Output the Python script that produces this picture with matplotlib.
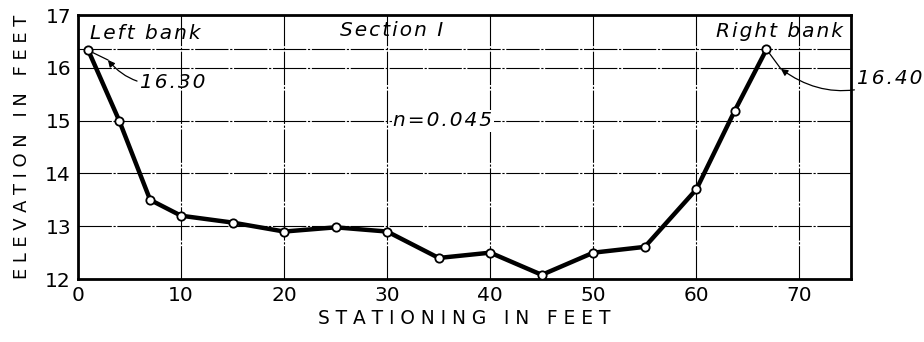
import matplotlib
matplotlib.use("Agg")
import matplotlib.pyplot as plt

stations = [1, 4, 7, 10, 15, 20, 25, 30, 35, 40, 45, 50, 55, 60, 63.7, 66.8]
elevations = [16.33, 15.0, 13.5, 13.2, 13.07, 12.9, 12.98, 12.9, 12.4, 12.5, 12.08, 12.5, 12.61, 13.7, 15.18, 16.35]
xticks = [0, 10, 20, 30, 40, 50, 60, 70]
yticks = [12, 13, 14, 15, 16, 17]
water_surface = 16.35

HS = "\u200a"
def spaced(s):
    return HS.join(s)

fig = plt.figure(figsize=(9.24, 3.42), dpi=100)
ax = fig.add_axes([0.0844, 0.184, 0.8366, 0.772])
ax.set_xlim(0, 75)
ax.set_ylim(12, 17)
ax.set_xticks(xticks)
ax.set_yticks(yticks)
ax.tick_params(length=0, labelsize=14.5, pad=5)
for s in ax.spines.values():
    s.set_linewidth(2)
    s.set_color("black")

gls = (0, (30, 1.5, 2, 1.5))
ax.grid(True, color="black", linewidth=0.8, linestyle=gls)
ax.axhline(water_surface, color="black", linewidth=0.8, linestyle=gls)

ax.plot(stations, elevations, color="black", linewidth=3.2, marker="o",
        markersize=6, markerfacecolor="white", markeredgecolor="black",
        markeredgewidth=1.3, zorder=5)

it = dict(style="italic", fontsize=14.5, color="black")
ax.text(1.2, 16.66, spaced("Left bank"), ha="left", va="center", **it)
ax.text(30.4, 16.7, spaced("Section I"), ha="center", va="center", **it)
ax.text(74.2, 16.68, spaced("Right bank"), ha="right", va="center", **it)
ax.text(30.6, 15.0, spaced("n=0.045"), ha="left", va="center", zorder=6,
        bbox=dict(facecolor="white", edgecolor="none", pad=1), **it)

# left annotation
ax.plot([stations[0], 2.9], [elevations[0], 16.15], color="black", linewidth=0.9)
ax.annotate(spaced("16.30"), xy=(2.9, 16.15), xytext=(6.0, 15.72), ha="left", va="center",
            arrowprops=dict(arrowstyle="-|>", color="black", lw=0.9,
                            connectionstyle="arc3,rad=-0.3", shrinkA=0, shrinkB=0,
                            mutation_scale=10), **it)
# right annotation
ax.plot([stations[-1], 68.2], [elevations[-1], 15.98], color="black", linewidth=0.9)
ax.annotate(spaced("16.40"), xy=(68.2, 15.98), xytext=(75.6, 15.79), ha="left", va="center",
            annotation_clip=False,
            arrowprops=dict(arrowstyle="-|>", color="black", lw=0.9,
                            connectionstyle="arc3,rad=-0.3", shrinkA=0, shrinkB=0,
                            mutation_scale=10), **it)

ax.set_xlabel("S T A T I O N I N G   I N   F E E T", fontsize=13.4, labelpad=3)
ax.set_ylabel("E L E V A T I O N   I N   F E E T", fontsize=12.9, labelpad=10)

fig.savefig("out.png", dpi=100)
